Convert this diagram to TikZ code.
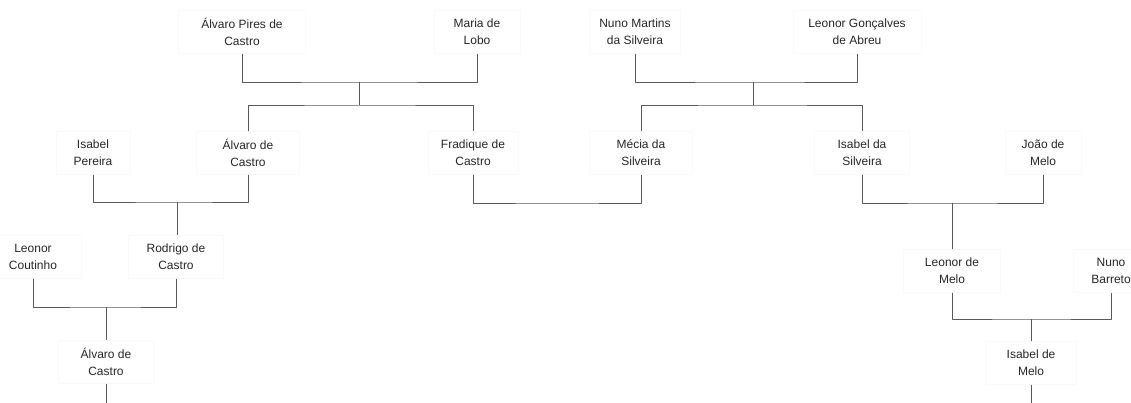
\documentclass[tikz,border=0pt]{standalone}
\usepackage{fontspec}
\setmainfont{Liberation Sans}
\begin{document}
\begin{tikzpicture}[x = 1pt, y = -1pt, line join = round,
	font = \fontsize{12}{17}\selectfont,
	person/.style = {draw = black!2, text = black!85, align = center,
		minimum height = 43pt, inner sep = 2pt},
	link/.style = {draw = black!65, line width = .8pt}]
	\useasboundingbox (0,0) rectangle (1131,403);
	% first generation
	\node[person, minimum width = 127pt] (apc) at (242,32) {Álvaro Pires de\\Castro};
	\node[person, minimum width = 86pt] (ml) at (477,32) {Maria de\\Lobo};
	\node[person, minimum width = 91pt] (nms) at (635,32) {Nuno Martins\\da Silveira};
	\node[person, minimum width = 128pt] (lga) at (857,32) {Leonor Gonçalves\\de Abreu};
	% second generation
	\node[person, minimum width = 74pt] (ip) at (93,153) {Isabel\\Pereira};
	\node[person, minimum width = 103pt] (ac) at (248,153) {Álvaro de\\Castro};
	\node[person, minimum width = 90pt] (fc) at (473,153) {Fradique de\\Castro};
	\node[person, minimum width = 103pt] (ms) at (641,153) {Mécia da\\Silveira};
	\node[person, minimum width = 95pt] (is) at (862,153) {Isabel da\\Silveira};
	\node[person, minimum width = 76pt] (jm) at (1043,153) {João de\\Melo};
	% third generation
	\node[person, minimum width = 96pt] (lc) at (33,257) {Leonor\\Coutinho};
	\node[person, minimum width = 95pt] (rc) at (176,257) {Rodrigo de\\Castro};
	\node[person, minimum width = 97pt] (lm) at (952,271) {Leonor de\\Melo};
	\node[person, minimum width = 76pt] (nb) at (1111,271) {Nuno\\Barreto};
	% fourth generation
	\node[person, minimum width = 96pt] (ac2) at (106,362) {Álvaro de\\Castro};
	\node[person, minimum width = 90pt] (im) at (1031,363) {Isabel de\\Melo};
	\path
	(359,82) coordinate (f1)
	(359,105) coordinate (c1)
	(753,82) coordinate (f2)
	(753,105) coordinate (c2)
	(177,202) coordinate (f3)
	(557,203) coordinate (f4)
	(952,203) coordinate (f5)
	(106,307) coordinate (f6)
	(1031,319) coordinate (f7)
	(106,403) coordinate (e1)
	(1031,403) coordinate (e2)
	;
	\draw[link]
	(apc) |- (f1) -| (ml)
	(f1) -- (c1)
	(ac) |- (c1) -| (fc)
	(nms) |- (f2) -| (lga)
	(f2) -- (c2)
	(ms) |- (c2) -| (is)
	(ip) |- (f3) -| (ac)
	(f3) -- (f3 |- rc.north)
	(fc) |- (f4) -| (ms)
	(is) |- (f5) -| (jm)
	(f5) -- (lm)
	(lc) |- (f6) -| (rc)
	(f6) -- (ac2)
	(lm) |- (f7) -| (nb)
	(f7) -- (im)
	(ac2) -- (e1)
	(im) -- (e2)
	;
\end{tikzpicture}
\end{document}
